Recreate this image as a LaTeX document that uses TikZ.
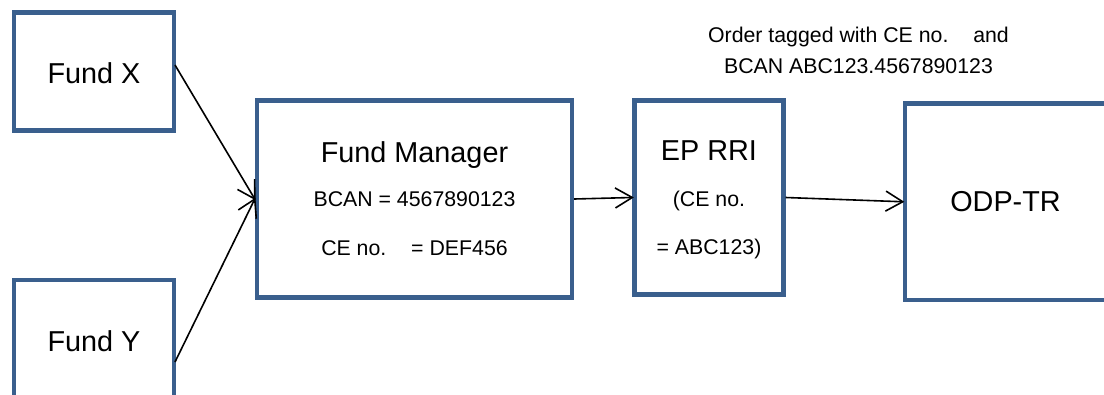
\documentclass[tikz,border=0pt]{standalone}
\usepackage{fontspec}
\setmainfont{Liberation Sans}
\usetikzlibrary{arrows.meta}
\definecolor{boxblue}{HTML}{3A5F8D}
\begin{document}
\begin{tikzpicture}[x=1pt,y=-1pt,
  box/.style={draw=boxblue, line width=4.4pt, inner sep=0pt, rectangle},
  title/.style={font=\fontsize{28.8}{34}\selectfont, anchor=base, inner sep=0pt},
  small/.style={font=\fontsize{21.3}{25}\selectfont, anchor=base, inner sep=0pt},
  conn/.style={line width=1.6pt, shorten >=-1.5pt, -{Straight Barb[length=17pt,width=20pt]}}]
\useasboundingbox (0,0) rectangle (1104,394);
\clip (0,0) rectangle (1104,394);
\fill[white] (0,0) rectangle (1104,394);
% boxes
\node[box, minimum width=160pt, minimum height=118pt] (fx) at (94,71.5) {};
\node[title] (fxt) at (94,83.3) {Fund X};
\node[box, minimum width=160pt, minimum height=118pt] (fy) at (94,339) {};
\node[title] (fyt) at (94,351.7) {Fund Y};
\node[box, minimum width=315pt, minimum height=197pt] (fm) at (414.5,199) {};
\node[title] (fmt) at (414.5,162) {Fund Manager};
\node[small] (fmb) at (414.5,206.7) {BCAN = 4567890123};
\node[small] (fmc) at (414.5,255.3) {CE no.\hspace{17pt} = DEF456};
\node[box, minimum width=149pt, minimum height=194pt] (ep) at (709,197.5) {};
\node[title] (ept) at (709,160) {EP RRI};
\node[small] (epb) at (709,206.7) {(CE no.};
\node[small] (epc) at (709,254) {= ABC123)};
\node[box, minimum width=201pt, minimum height=196.5pt] (odp) at (1005.5,201.75) {};
\node[title] (odpt) at (1005.5,211.7) {ODP-TR};
\node[small] (note1) at (858.5,42) {Order tagged with CE no.\hspace{17pt} and};
\node[small] (note2) at (858.5,73) {BCAN ABC123.4567890123};
% connectors
\coordinate (fxs) at (175,65);
\coordinate (fys) at (175,362);
\draw[conn] (fxs) -- (fm.west);
\draw[conn] (fys) -- (fm.west);
\draw[conn] (fm.east) -- (ep.west);
\draw[conn] (ep.east) -- (odp.west);
\end{tikzpicture}
\end{document}
